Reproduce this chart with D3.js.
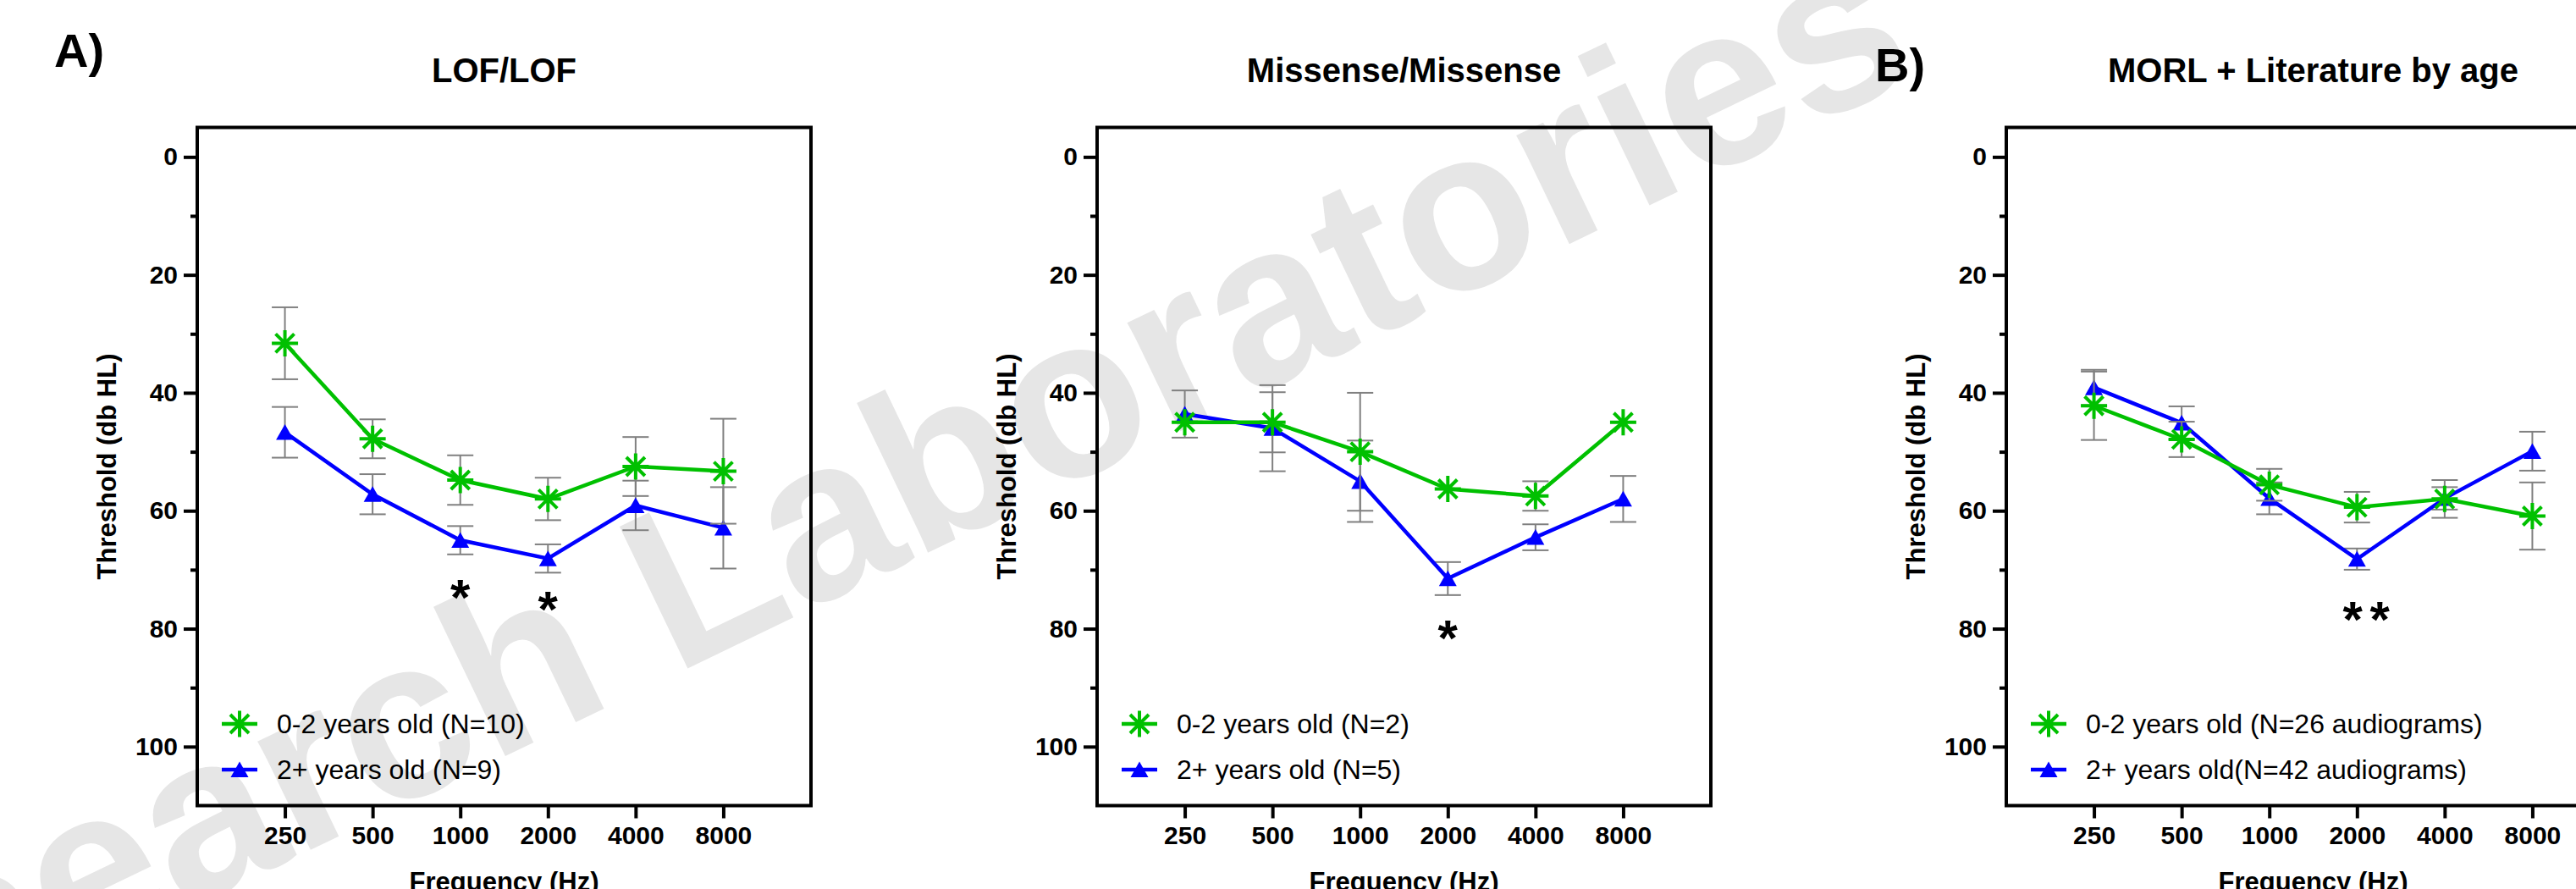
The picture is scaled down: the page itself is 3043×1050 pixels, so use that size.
<!DOCTYPE html>
<html>
<head>
    <title>Audiogram thresholds by age</title>
    <!-- fetch the D3js library -->
    <script src="https://d3js.org/d3.v7.min.js"></script>
    <style>
        body {
            margin: 0;
            background-color: #ffffff;
        }

        svg {
            display: block;
            font-family: "Liberation Sans", Arial, Helvetica, sans-serif;
        }
    </style>
</head>
<body>
<script>
    // Categories and ticks
    const frequencies = ["250", "500", "1000", "2000", "4000", "8000"];
    const yTicks = [0, 20, 40, 60, 80, 100];
    const yMinorTicks = [10, 30, 50, 70, 90];

    // LOF/LOF
    const lofYoung = [31.6, 47.8, 54.8, 58.0, 52.5, 53.3];
    const lofYoungErr = [6.1, 3.3, 4.2, 3.6, 5.0, 8.9];
    const lofOld = [46.7, 57.2, 65.0, 68.1, 59.1, 62.9];
    const lofOldErr = [4.3, 3.4, 2.4, 2.4, 4.2, 6.9];

    // Missense/Missense
    const misYoung = [45.0, 45.0, 50.0, 56.3, 57.5, 45.0];
    const misYoungErr = [0, 5.1, 10.0, 0, 2.5, 0];
    const misOld = [43.6, 46.0, 55.0, 71.5, 64.5, 58.0];
    const misOldErr = [4.0, 7.3, 6.9, 2.8, 2.2, 3.9];

    // MORL + Literature
    const morlYoung = [42.2, 47.9, 55.6, 59.4, 58.0, 60.9];
    const morlYoungErr = [5.8, 3.0, 2.7, 2.6, 3.2, 5.7];
    const morlOld = [39.1, 45.1, 57.9, 68.2, 57.9, 49.9];
    const morlOldErr = [3.0, 2.8, 2.7, 1.8, 1.9, 3.3];

    const panelTitles = ["LOF/LOF", "Missense/Missense", "MORL + Literature by age"];
    const youngLabels = ["0-2 years old (N=10)", "0-2 years old (N=2)", "0-2 years old (N=26 audiograms)"];
    const oldLabels = ["2+ years old (N=9)", "2+ years old (N=5)", "2+ years old(N=42 audiograms)"];

    // significance marks: frequency, threshold level, label
    const lofStars = [["1000", 72.7, "*"], ["2000", 74.8, "*"]];
    const misStars = [["2000", 79.6, "*"]];
    const morlStars = [["2000", 76.5, "**"]];

    const green = "#00c000";
    const blue = "#0000ff";
    const errColor = "#808080";

    const width = 3043;
    const height = 1050;

    const svg = d3.select("body")
        .append("svg")
        .attr("width", width)
        .attr("height", height);

    // watermark behind everything
    svg.append("text")
        .attr("transform", "translate(-367,1357) rotate(-25.7)")
        .attr("font-size", 270)
        .attr("font-weight", "bold")
        .attr("fill", "#e6e6e6")
        .text("Research Laboratories");

    // panel letters
    svg.append("text").attr("x", 64).attr("y", 79)
        .attr("font-size", 56).attr("font-weight", "bold").text("A)");
    svg.append("text").attr("x", 2215).attr("y", 96)
        .attr("font-size", 56).attr("font-weight", "bold").text("B)");

    const panels = [
        {left: 233, young: lofYoung, youngErr: lofYoungErr, old: lofOld, oldErr: lofOldErr, stars: lofStars},
        {left: 1296, young: misYoung, youngErr: misYoungErr, old: misOld, oldErr: misOldErr, stars: misStars},
        {left: 2370, young: morlYoung, youngErr: morlYoungErr, old: morlOld, oldErr: morlOldErr, stars: morlStars}
    ];

    const plotWidth = 725;
    const plotTop = 150.5;
    const plotBottom = 951.5;

    const asteriskPath = "M-15.5,0H15.5M0,-15.5V15.5M-11,-11L11,11M-11,11L11,-11";
    const trianglePath = "M0,-9.5L10.5,9L-10.5,9Z";

    function drawMarker(g, px, py, kind) {
        if (kind === "young") {
            g.append("path")
                .attr("d", asteriskPath)
                .attr("transform", "translate(" + px + "," + py + ")")
                .attr("fill", "none")
                .attr("stroke", green)
                .attr("stroke-width", 4);
        } else {
            g.append("path")
                .attr("d", trianglePath)
                .attr("transform", "translate(" + px + "," + py + ")")
                .attr("fill", blue);
        }
    }

    function drawSeries(g, x, y, values, errs, color, kind) {
        // error bars
        values.forEach(function (m, i) {
            if (errs[i] <= 0) return;
            const cx = x(i + 1);
            g.append("line")
                .attr("x1", cx).attr("x2", cx)
                .attr("y1", y(m - errs[i])).attr("y2", y(m + errs[i]))
                .attr("stroke", errColor).attr("stroke-width", 2);
            [m - errs[i], m + errs[i]].forEach(function (v) {
                g.append("line")
                    .attr("x1", cx - 15.5).attr("x2", cx + 15.5)
                    .attr("y1", y(v)).attr("y2", y(v))
                    .attr("stroke", errColor).attr("stroke-width", 2);
            });
        });

        // connecting line
        const line = d3.line()
            .x(function (d, i) { return x(i + 1); })
            .y(function (d) { return y(d); });
        g.append("path")
            .datum(values)
            .attr("d", line)
            .attr("fill", "none")
            .attr("stroke", color)
            .attr("stroke-width", 4.5);

        values.forEach(function (m, i) {
            drawMarker(g, x(i + 1), y(m), kind);
        });
    }

    panels.forEach(function (p, k) {
        const left = p.left;
        const x = d3.scaleLinear().domain([0, 7]).range([left, left + plotWidth]);
        const y = d3.scaleLinear().domain([-5, 110]).range([plotTop, plotBottom]);
        const g = svg.append("g");

        // title
        g.append("text")
            .attr("x", left + plotWidth / 2)
            .attr("y", 97)
            .attr("text-anchor", "middle")
            .attr("font-size", 40)
            .attr("font-weight", "bold")
            .text(panelTitles[k]);

        // y axis, major and minor ticks
        const yAxis = g.append("g")
            .attr("transform", "translate(" + left + ",0)")
            .call(d3.axisLeft(y).tickValues(yTicks).tickSize(16).tickPadding(7));
        yAxis.select(".domain").remove();
        yAxis.selectAll("line").attr("stroke-width", 4);
        yAxis.selectAll("text")
            .attr("font-size", 30)
            .attr("font-weight", "bold")
            .attr("font-family", "Liberation Sans, Arial, sans-serif");

        const yMinor = g.append("g")
            .attr("transform", "translate(" + left + ",0)")
            .call(d3.axisLeft(y).tickValues(yMinorTicks).tickSize(8).tickFormat(""));
        yMinor.select(".domain").remove();
        yMinor.selectAll("line").attr("stroke-width", 4);

        // x axis
        const xAxis = g.append("g")
            .attr("transform", "translate(0," + plotBottom + ")")
            .call(d3.axisBottom(x)
                .tickValues([1, 2, 3, 4, 5, 6])
                .tickFormat(function (i) { return frequencies[i - 1]; })
                .tickSize(15)
                .tickPadding(9));
        xAxis.select(".domain").remove();
        xAxis.selectAll("line").attr("stroke-width", 4);
        xAxis.selectAll("text")
            .attr("font-size", 30)
            .attr("font-weight", "bold")
            .attr("font-family", "Liberation Sans, Arial, sans-serif");

        // frame
        g.append("rect")
            .attr("x", left)
            .attr("y", plotTop)
            .attr("width", plotWidth)
            .attr("height", plotBottom - plotTop)
            .attr("fill", "none")
            .attr("stroke", "black")
            .attr("stroke-width", 4);

        // axis titles
        g.append("text")
            .attr("transform", "translate(" + (left - 107) + "," + ((plotTop + plotBottom) / 2) + ") rotate(-90)")
            .attr("text-anchor", "middle")
            .attr("dy", "0.35em")
            .attr("font-size", 31)
            .attr("font-weight", "bold")
            .text("Threshold (db HL)");
        g.append("text")
            .attr("x", left + plotWidth / 2)
            .attr("y", 1052)
            .attr("text-anchor", "middle")
            .attr("font-size", 31)
            .attr("font-weight", "bold")
            .text("Frequency (Hz)");

        // data: older group underneath, younger on top
        drawSeries(g, x, y, p.old, p.oldErr, blue, "old");
        drawSeries(g, x, y, p.young, p.youngErr, green, "young");

        // significance stars
        p.stars.forEach(function (s) {
            const cx = x(frequencies.indexOf(s[0]) + 1);
            const n = s[2].length;
            for (let j = 0; j < n; j++) {
                const sx = n > 1 ? cx + 11 + (j - (n - 1) / 2) * 32 : cx;
                g.append("text")
                    .attr("x", sx)
                    .attr("y", y(s[1]) + 34)
                    .attr("text-anchor", "middle")
                    .attr("font-size", 60)
                    .attr("font-weight", "bold")
                    .text("*");
            }
        });

        // legend
        const rows = [
            {y: 855, color: green, kind: "young", label: youngLabels[k]},
            {y: 909, color: blue, kind: "old", label: oldLabels[k]}
        ];
        rows.forEach(function (r) {
            g.append("line")
                .attr("x1", left + 29).attr("x2", left + 71)
                .attr("y1", r.y).attr("y2", r.y)
                .attr("stroke", r.color).attr("stroke-width", 4.5);
            drawMarker(g, left + 50, r.y, r.kind);
            g.append("text")
                .attr("x", left + 94)
                .attr("y", r.y + 11)
                .attr("font-size", 32)
                .text(r.label);
        });
    });
</script>
</body>
</html>
